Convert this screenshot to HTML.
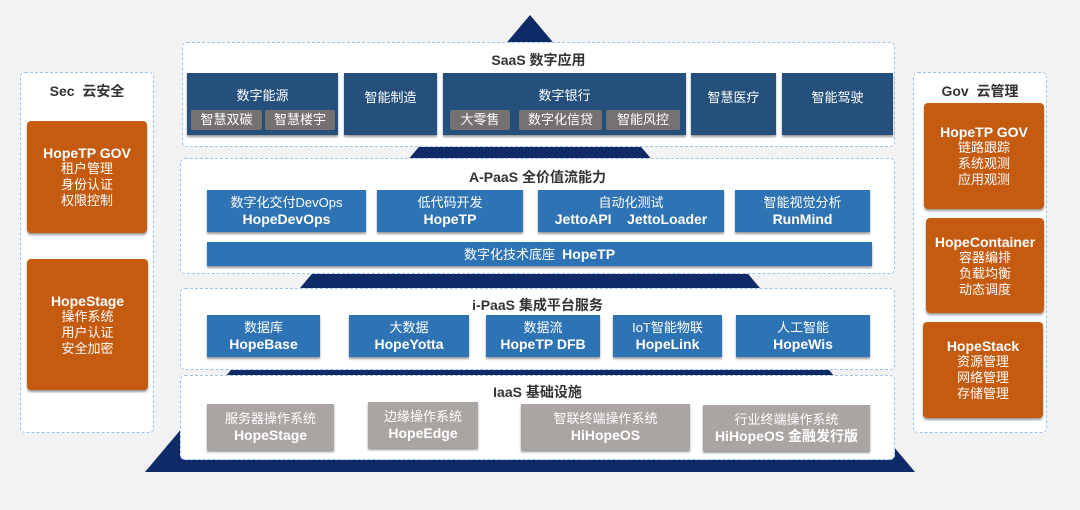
<!DOCTYPE html>
<html><head><meta charset="utf-8"><style>
*{margin:0;padding:0;box-sizing:border-box}
body{width:1080px;height:510px;background:#f2f2f2;position:relative;overflow:hidden;font-family:"Liberation Sans","Noto Sans CJK SC",sans-serif}
.a{position:absolute}
.pn{position:absolute;background:#fff;border:1px dashed #9cc3e5;border-radius:5px}
.t{position:absolute;left:0;right:0;text-align:center;font-weight:bold;color:#333;font-size:14px}
.b{position:absolute;display:flex;flex-direction:column;align-items:center;justify-content:center;color:#fff;text-align:center;font-size:13px;line-height:17px;box-shadow:0 2px 2px #999}
.b b{font-size:14px}
.nv{background:#24507b}
.bl{background:#2e74b5}
.gr{background:#aaa5a3}
.or{background:#c55a11;border-radius:4px;font-size:13px;line-height:16px}
.sg{position:absolute;background:#767171;color:#fff;font-size:13px;text-align:center;line-height:20px;border-radius:2px}
</style></head><body>
<svg class="a" style="left:0;top:0" width="1080" height="510"><polygon points="530,15 915,472 145,472" fill="#0f2a66"/></svg>

<div class="pn" style="left:20px;top:72px;width:134px;height:361px"><div class="t" style="top:8px">Sec&nbsp; 云安全</div></div>
<div class="b or" style="left:27px;top:121px;width:120px;height:112px"><b>HopeTP GOV</b>租户管理<br>身份认证<br>权限控制</div>
<div class="b or" style="left:27px;top:259px;width:121px;height:131px"><b>HopeStage</b>操作系统<br>用户认证<br>安全加密</div>

<div class="pn" style="left:913px;top:72px;width:134px;height:361px"><div class="t" style="top:8px">Gov&nbsp; 云管理</div></div>
<div class="b or" style="left:924px;top:103px;width:120px;height:106px"><b>HopeTP GOV</b>链路跟踪<br>系统观测<br>应用观测</div>
<div class="b or" style="left:926px;top:218px;width:118px;height:95px"><b>HopeContainer</b>容器编排<br>负载均衡<br>动态调度</div>
<div class="b or" style="left:923px;top:322px;width:120px;height:96px"><b>HopeStack</b>资源管理<br>网络管理<br>存储管理</div>

<div class="pn" style="left:182px;top:42px;width:713px;height:105px"><div class="t" style="top:7px">SaaS 数字应用</div></div>
<div class="b nv" style="left:187px;top:73px;width:151px;height:62px;justify-content:flex-start;padding-top:14px">数字能源</div>
<div class="sg" style="left:191px;top:110px;width:71px">智慧双碳</div>
<div class="sg" style="left:265px;top:110px;width:70px">智慧楼宇</div>
<div class="b nv" style="left:344px;top:73px;width:93px;height:62px;justify-content:flex-start;padding-top:16px">智能制造</div>
<div class="b nv" style="left:443px;top:73px;width:243px;height:62px;justify-content:flex-start;padding-top:14px">数字银行</div>
<div class="sg" style="left:450px;top:110px;width:60px">大零售</div>
<div class="sg" style="left:519px;top:110px;width:83px">数字化信贷</div>
<div class="sg" style="left:606px;top:110px;width:74px">智能风控</div>
<div class="b nv" style="left:691px;top:73px;width:85px;height:62px;justify-content:flex-start;padding-top:16px">智慧医疗</div>
<div class="b nv" style="left:782px;top:73px;width:111px;height:62px;justify-content:flex-start;padding-top:16px">智能驾驶</div>

<div class="pn" style="left:180px;top:158px;width:715px;height:116px"><div class="t" style="top:8px">A-PaaS 全价值流能力</div></div>
<div class="b bl" style="left:207px;top:190px;width:159px;height:42px">数字化交付DevOps<b>HopeDevOps</b></div>
<div class="b bl" style="left:377px;top:190px;width:146px;height:42px">低代码开发<b>HopeTP</b></div>
<div class="b bl" style="left:538px;top:190px;width:186px;height:42px">自动化测试<b>JettoAPI&nbsp;&nbsp;&nbsp; JettoLoader</b></div>
<div class="b bl" style="left:735px;top:190px;width:135px;height:42px">智能视觉分析<b>RunMind</b></div>
<div class="b bl" style="left:207px;top:242px;width:665px;height:24px;font-size:13px;flex-direction:row">数字化技术底座&nbsp;&nbsp;<b>HopeTP</b></div>

<div class="pn" style="left:180px;top:288px;width:715px;height:82px"><div class="t" style="top:6px">i-PaaS 集成平台服务</div></div>
<div class="b bl" style="left:207px;top:315px;width:113px;height:42px">数据库<b>HopeBase</b></div>
<div class="b bl" style="left:349px;top:315px;width:120px;height:42px">大数据<b>HopeYotta</b></div>
<div class="b bl" style="left:486px;top:315px;width:114px;height:42px">数据流<b>HopeTP DFB</b></div>
<div class="b bl" style="left:613px;top:315px;width:109px;height:42px">IoT智能物联<b>HopeLink</b></div>
<div class="b bl" style="left:736px;top:315px;width:134px;height:42px">人工智能<b>HopeWis</b></div>

<div class="pn" style="left:180px;top:375px;width:715px;height:85px"><div class="t" style="top:6px">IaaS 基础设施</div></div>
<div class="b gr" style="left:207px;top:404px;width:127px;height:46px">服务器操作系统<b>HopeStage</b></div>
<div class="b gr" style="left:368px;top:402px;width:110px;height:46px">边缘操作系统<b>HopeEdge</b></div>
<div class="b gr" style="left:521px;top:404px;width:169px;height:46px">智联终端操作系统<b>HiHopeOS</b></div>
<div class="b gr" style="left:703px;top:405px;width:167px;height:46px">行业终端操作系统<b>HiHopeOS 金融发行版</b></div>
</body></html>
